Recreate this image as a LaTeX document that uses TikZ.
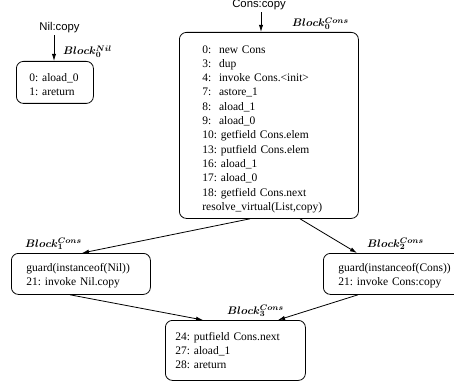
\documentclass[tikz,border=0pt]{standalone}
\usepackage{fontspec}
\usepackage{bm}
\setmainfont{Liberation Serif}
\newfontfamily\entryfont{Liberation Sans}
\usetikzlibrary{arrows.meta,calc}
\newcommand\blk[2]{\ensuremath{\bm{Block}^{\bm{#1}}_{\bm{#2}}}}
\frenchspacing
\begin{document}
\begin{tikzpicture}[x=1pt,y=-1pt,
  blockbox/.style={draw, rounded corners=7pt, line width=0.8pt, anchor=north west, align=left, inner ysep=0pt, font=\frenchspacing\fontsize{11.5}{13.5}\selectfont},
  blocklabel/.style={anchor=base west, inner sep=0pt, font=\fontsize{11.4}{13}\selectfont},
  entry/.style={font=\entryfont\fontsize{11.3}{13}\selectfont, inner sep=0pt},
  arr/.style={-{Latex[length=7pt,width=4.2pt]}, line width=0.8pt}]
\useasboundingbox (0,0) rectangle (454,387);

% entries
\node[entry] (nilentry) at (59.5,28) {Nil:copy};
\node[entry] (consentry) at (259,5) {Cons:copy};

% blocks
\node[blockbox, inner xsep=13pt, text width=51pt, minimum height=42pt] (b0nil) at (16,61)
  {\rule{0pt}{12pt}0: aload\_0\\1: areturn};
\node[blockbox, inner xsep=23pt, text width=133pt, minimum height=186pt, font=\frenchspacing\fontsize{11.5}{14.3}\selectfont] (b0cons) at (179,32)
  {\rule{0pt}{15pt}0:\ \ new Cons\\3:\ \ dup\\4:\ \ invoke Cons.<init>\\7:\ \ astore\_1\\8:\ \ aload\_1\\9:\ \ aload\_0\\10: getfield Cons.elem\\13: putfield Cons.elem\\16: aload\_1\\17: aload\_0\\18: getfield Cons.next\\resolve\_virtual(List,copy)};
\node[blockbox, inner xsep=15pt, text width=109pt, minimum height=41pt] (b1) at (11,253)
  {\rule{0pt}{12pt}guard(instanceof(Nil))\\21: invoke Nil.copy};
\node[blockbox, inner xsep=15pt, text width=112pt, minimum height=41pt] (b2) at (323,253)
  {\rule{0pt}{12pt}guard(instanceof(Cons))\\21: invoke Cons:copy};
\node[blockbox, inner xsep=10pt, text width=120pt, minimum height=60pt, font=\frenchspacing\fontsize{11.5}{14}\selectfont] (b3) at (165,320)
  {24: putfield Cons.next\\27: aload\_1\\28: areturn};

% labels
\node[blocklabel] (lzeronil) at (63,55) {\blk{Nil}{0}};
\node[blocklabel] (lzerocons) at (292,27) {\blk{Cons}{0}};
\node[blocklabel] (lone) at (25,247) {\blk{Cons}{1}};
\node[blocklabel] (ltwo) at (367,247) {\blk{Cons}{2}};
\node[blocklabel] (lthree) at (227,314) {\blk{Cons}{3}};

% connectors
\coordinate (nilin) at ($(b0nil.north west)+(38,0)$);
\coordinate (consin) at ($(b0cons.north west)+(82,0)$);
\draw[arr, shorten <=2pt] (nilentry.south -| nilin) -- (nilin);
\draw[arr, shorten <=2pt] (consentry.south -| consin) -- (consin);
\draw[arr] ($(b0cons.south west)+(71,0)$) -- ($(b1.north west)+(71,0)$);
\draw[arr] ($(b0cons.south west)+(121,0)$) -- ($(b2.north west)+(34,0)$);
\draw[arr] ($(b1.south west)+(59,0)$) -- ($(b3.north west)+(38,0)$);
\draw[arr] ($(b2.south west)+(35,0)$) -- ($(b3.north west)+(113,0)$);
\end{tikzpicture}
\end{document}
